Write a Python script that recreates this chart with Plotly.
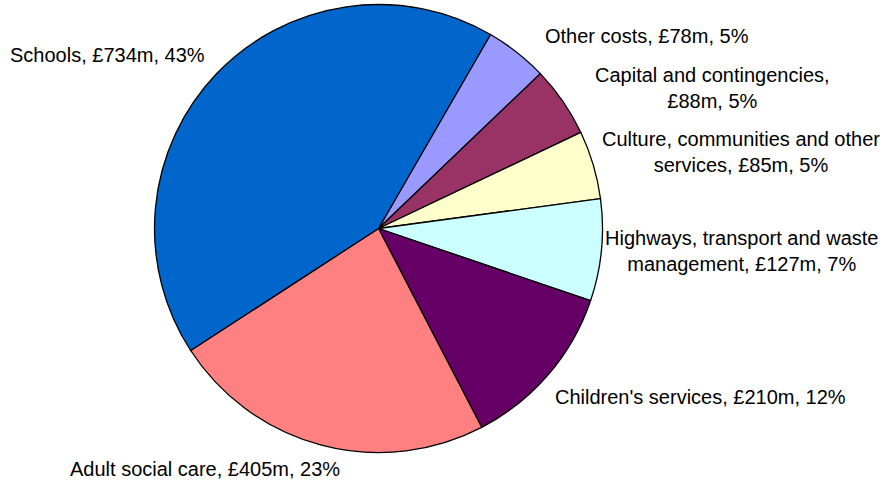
import plotly.graph_objects as go

categories = ["Other costs", "Capital and contingencies", "Culture, communities and other services",
              "Highways, transport and waste management", "Children's services",
              "Adult social care", "Schools"]
values = [78, 88, 85, 127, 210, 405, 734]
percents = [5, 5, 5, 7, 12, 23, 43]
label_texts = [
    "Other costs, £78m, 5%",
    "Capital and contingencies,<br>£88m, 5%",
    "Culture, communities and other<br>services, £85m, 5%",
    "Highways, transport and waste<br>management, £127m, 7%",
    "Children's services, £210m, 12%",
    "Adult social care, £405m, 23%",
    "Schools, £734m, 43%",
]
colors = ["#9999FF", "#993366", "#FFFFCC", "#CCFFFF", "#660066", "#FF8080", "#0066CC"]

W, H = 887, 483
# label centres in pixels (layout only)
label_pos = [(647, 36), (712, 88), (741, 152), (741, 251), (700, 397), (205, 469), (107, 55)]

cx, cy, r = 378.5, 228.5, 224

fig = go.Figure(go.Pie(
    labels=categories, values=values, sort=False, direction="clockwise", rotation=30,
    marker=dict(colors=colors, line=dict(color="black", width=1.3)),
    textinfo="none", hoverinfo="label+value", showlegend=False,
    domain=dict(x=[(cx - r) / W, (cx + r) / W], y=[1 - (cy + r) / H, 1 - (cy - r) / H]),
))

for txt, (px, py) in zip(label_texts, label_pos):
    fig.add_annotation(x=px / W, y=1 - py / H, xref="paper", yref="paper", text=txt,
                       showarrow=False, xanchor="center", yanchor="middle",
                       font=dict(family="Liberation Sans, Arial", size=20, color="black"))

fig.update_layout(width=W, height=H, margin=dict(l=0, r=0, t=0, b=0),
                  paper_bgcolor="white", plot_bgcolor="white")
fig.write_html("out.html", config={"displayModeBar": False},
               post_script="document.body.style.margin='0';document.body.style.overflow='hidden';")
